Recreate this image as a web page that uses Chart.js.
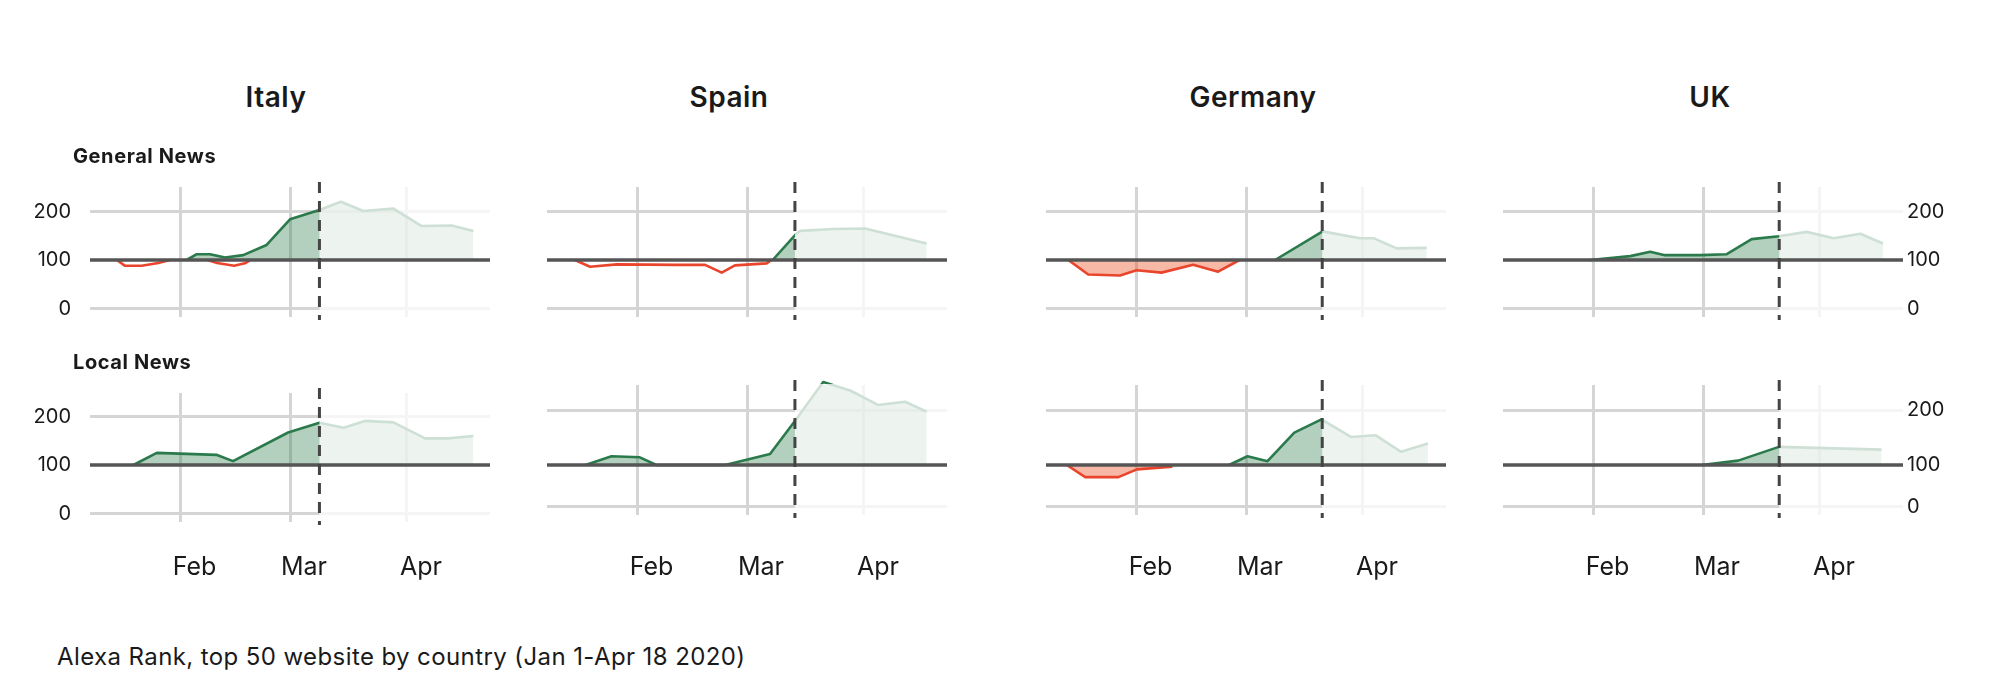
<!DOCTYPE html>
<html>
<head>
<meta charset="utf-8">
<script src="https://cdn.jsdelivr.net/npm/chart.js@4.4.1/dist/chart.umd.min.js"></script>
<style>
  body { margin: 0; background: #fff; font-family: Inter, 'Open Sans', sans-serif; color: #1a1a1a; }
  #page { position: relative; width: 2000px; height: 689px; overflow: hidden; }
  #page canvas { position: absolute; }
  .title { position: absolute; top: 83px; width: 400px; text-align: center; font-size: 28px; line-height: 28px; font-weight: 600; letter-spacing: 0.5px; }
  .rowlabel { position: absolute; left: 73px; font-size: 20px; line-height: 20px; font-weight: 700; letter-spacing: 0.6px; }
  .note { position: absolute; left: 57px; top: 645px; font-size: 24px; line-height: 24px; letter-spacing: 0.4px; }
</style>
</head>
<body>
<div id="page"></div>
<script>
// x values are days since Jan 1 2020, y values are the index (100 = before)
const countries = ['Italy', 'Spain', 'Germany', 'UK'];
const rowNames = ['General News', 'Local News'];
const monthTicks = [31, 60, 91];
const monthLabels = ['Feb', 'Mar', 'Apr'];
const lockdownDay = [67.8, 72.7, 80.2, 80.2];
const yTicks = [0, 100, 200];
const yTickLabels = ['0', '100', '200'];
const localGridTicks = [24, 100, 200]; // Spain/Germany/UK local rows sit on a squeezed lower half
const redFilled = [false, false, true, true];

// Italy
const itGenUpDays = [32.6, 35.3, 38.8, 42.8, 47.6, 53.8, 60, 67.8, 73.5, 79.4, 87.4, 94.9, 102.8, 108.6];
const itGenUpVals = [100, 112, 112, 105, 110, 131, 184, 203, 220, 201, 206, 170, 171, 160];
const itGenDownDays = [14.1, 16.3, 20.7, 25.1, 28.2, 30, 38.1, 40.7, 45.2, 48.3, 49.5];
const itGenDownVals = [100, 88, 88, 94, 100, null, 100, 94, 88, 94, 100];
const itLocUpDays = [18.5, 24.7, 32.6, 40.5, 44.9, 59.5, 67.8, 74.2, 79.9, 87.4, 95.8, 102, 108.6];
const itLocUpVals = [100, 125, 123, 121, 108, 167, 187, 177, 191, 188, 155, 155, 160];
const itLocDownDays = [];
const itLocDownVals = [];

// Spain
const esGenUpDays = [66.8, 72.8, 74, 82.9, 91.3, 107.6];
const esGenUpVals = [100, 152, 160, 164, 165, 134];
const esGenDownDays = [14.4, 18.4, 25.5, 41.4, 48.9, 53.3, 56.8, 65.2, 66.5];
const esGenDownVals = [100, 86, 91, 90, 90, 74, 89, 93, 100];
const esLocUpDays = [17.2, 24.1, 31.6, 36, 54.2, 66.1, 72.7, 80.2, 87.5, 94.8, 101.9, 107.6];
const esLocUpVals = [100, 116, 114, 100, 100, 120, 180, 251, 235, 209, 215, 197];
const esLocDownDays = [];
const esLocDownVals = [];

// Germany
const deGenUpDays = [67.7, 80.3, 90.2, 93.8, 99.9, 107.9];
const deGenUpVals = [100, 159, 145, 145, 124, 125];
const deGenDownDays = [12.9, 18.2, 26.6, 31, 37.6, 46, 52.6, 58.3];
const deGenDownVals = [100, 70, 68, 79, 74, 90, 76, 100];
const deLocUpDays = [55.5, 60.4, 65.7, 72.8, 80, 87.8, 94.4, 101.1, 108.2];
const deLocUpVals = [100, 116, 107, 159, 183, 151, 154, 124, 139];
const deLocDownDays = [12.5, 17.4, 26.2, 31.1, 40.5];
const deLocDownVals = [100, 78, 78, 92, 97];

// UK
const ukGenUpDays = [30.1, 40.7, 46, 49.9, 59.2, 66.3, 72.9, 80.1, 87.5, 94.6, 101.7, 107.7];
const ukGenUpVals = [100, 108, 117, 110, 110, 112, 143, 149, 158, 145, 154, 134];
const ukGenDownDays = [];
const ukGenDownVals = [];
const ukLocUpDays = [59.6, 69.3, 80.1, 107.3];
const ukLocUpVals = [100, 108, 133, 128];
const ukLocDownDays = [];
const ukLocDownVals = [];

const GREEN = '#2b7a4b', GREEN_FILL = 'rgba(43,122,75,0.36)';
const RED = '#e8452c', RED_FILL = 'rgba(235,80,30,0.4)';
const GRID = '#d5d5d5';
Chart.defaults.font.family = "Inter, 'Open Sans', sans-serif";
Chart.defaults.color = '#1a1a1a';

function series(days, vals) {
  return days.map((d, i) => ({ x: d, y: vals[i] }));
}

const panels = [
  [series(itGenUpDays, itGenUpVals), series(itGenDownDays, itGenDownVals), series(itLocUpDays, itLocUpVals), series(itLocDownDays, itLocDownVals)],
  [series(esGenUpDays, esGenUpVals), series(esGenDownDays, esGenDownVals), series(esLocUpDays, esLocUpVals), series(esLocDownDays, esLocDownVals)],
  [series(deGenUpDays, deGenUpVals), series(deGenDownDays, deGenDownVals), series(deLocUpDays, deLocUpVals), series(deLocDownDays, deLocDownVals)],
  [series(ukGenUpDays, ukGenUpVals), series(ukGenDownDays, ukGenDownVals), series(ukLocUpDays, ukLocUpVals), series(ukLocDownDays, ukLocDownVals)]
];

// fade everything after lockdown, then baseline + dashed marker on top
const lockPlugin = {
  id: 'lock',
  afterDatasetsDraw(chart, args, opts) {
    const { ctx, chartArea: a, scales: { x, y } } = chart;
    const lx = x.getPixelForValue(opts.day);
    ctx.save();
    ctx.fillStyle = 'rgba(255,255,255,0.77)';
    ctx.fillRect(lx, a.top - 1, a.right - lx + 2, a.bottom - a.top + 2);
    const by = y.getPixelForValue(100);
    ctx.strokeStyle = '#555';
    ctx.lineWidth = 3.5;
    ctx.beginPath(); ctx.moveTo(a.left, by); ctx.lineTo(a.right, by); ctx.stroke();
    ctx.strokeStyle = '#444';
    ctx.lineWidth = 3;
    ctx.setLineDash([11, 8]);
    ctx.beginPath(); ctx.moveTo(lx, a.top - 5); ctx.lineTo(lx, a.bottom + 3); ctx.stroke();
    ctx.restore();
  }
};

const page = document.getElementById('page');
const plotLeft = [90, 547, 1046, 1503];
const titleCenter = [276, 729, 1253, 1710];
const PAD_TOP = 40;

countries.forEach((name, col) => {
  const t = document.createElement('div');
  t.className = 'title';
  t.style.left = (titleCenter[col] - 200) + 'px';
  t.textContent = name;
  page.appendChild(t);

  [0, 1].forEach(row => {
    const squeezed = row === 1 && col > 0;
    const areaTop = row === 0 ? 187 : (col === 0 ? 393 : 385);
    const areaH = row === 0 ? 130 : (col === 0 ? 129 : 130);
    const axisH = row === 0 ? 40 : 70;
    const yMin = squeezed ? 9.1 : -17.5;
    const yMax = squeezed ? 245.5 : (row === 0 ? 250.5 : 248.5);
    const ticks = squeezed ? localGridTicks : yTicks;
    const isUK = col === 3;

    const cv = document.createElement('canvas');
    const W = 560, H = PAD_TOP + areaH + axisH;
    cv.width = W; cv.height = H;
    cv.style.width = W + 'px'; cv.style.height = H + 'px';
    cv.style.left = (plotLeft[col] - 80) + 'px';
    cv.style.top = (areaTop - PAD_TOP) + 'px';
    page.appendChild(cv);

    const up = panels[col][row * 2];
    const down = panels[col][row * 2 + 1];

    new Chart(cv, {
      type: 'line',
      data: {
        datasets: [
          {
            data: down,
            borderColor: RED,
            borderWidth: 2.6,
            borderJoinStyle: 'round',
            backgroundColor: RED_FILL,
            fill: redFilled[col] ? { value: 100 } : false,
            pointRadius: 0,
            spanGaps: false,
            clip: false
          },
          {
            data: up,
            borderColor: GREEN,
            borderWidth: 2.6,
            borderJoinStyle: 'round',
            backgroundColor: GREEN_FILL,
            fill: { value: 100 },
            pointRadius: 0,
            spanGaps: false,
            clip: false
          }
        ]
      },
      options: {
        responsive: false,
        animation: false,
        devicePixelRatio: 1,
        layout: { padding: { top: PAD_TOP, left: isUK ? 80 : 0, right: isUK ? 0 : 80 } },
        plugins: {
          legend: { display: false },
          tooltip: { enabled: false },
          lock: { day: lockdownDay[col] }
        },
        scales: {
          x: {
            type: 'linear',
            min: 7,
            max: 113,
            border: { display: false },
            grid: { color: GRID, lineWidth: 3, drawTicks: false },
            afterBuildTicks: s => { s.ticks = monthTicks.map(v => ({ value: v })); },
            afterFit: s => { s.height = axisH; },
            ticks: {
              display: row === 1,
              padding: col === 0 ? 30 : 37,
              labelOffset: 14,
              font: { size: 25 },
              callback: v => monthLabels[monthTicks.indexOf(v)]
            }
          },
          y: {
            position: isUK ? 'right' : 'left',
            min: yMin,
            max: yMax,
            border: { display: false },
            grid: {
              color: c => (c.tick && c.tick.value === 100) ? 'rgba(0,0,0,0)' : GRID,
              lineWidth: 3,
              drawTicks: false
            },
            afterBuildTicks: s => { s.ticks = ticks.map(v => ({ value: v })); },
            afterFit: s => { s.width = 80; },
            ticks: {
              display: col === 0 || isUK,
              padding: isUK ? 4 : 19,
              font: { size: 20 },
              callback: (v, i) => yTickLabels[i]
            }
          }
        }
      },
      plugins: [lockPlugin]
    });
  });
});

rowNames.forEach((txt, row) => {
  const d = document.createElement('div');
  d.className = 'rowlabel';
  d.style.top = (row === 0 ? 146 : 352) + 'px';
  d.textContent = txt;
  page.appendChild(d);
});

const note = document.createElement('div');
note.className = 'note';
note.textContent = 'Alexa Rank, top 50 website by country (Jan 1-Apr 18 2020)';
page.appendChild(note);
</script>
</body>
</html>
